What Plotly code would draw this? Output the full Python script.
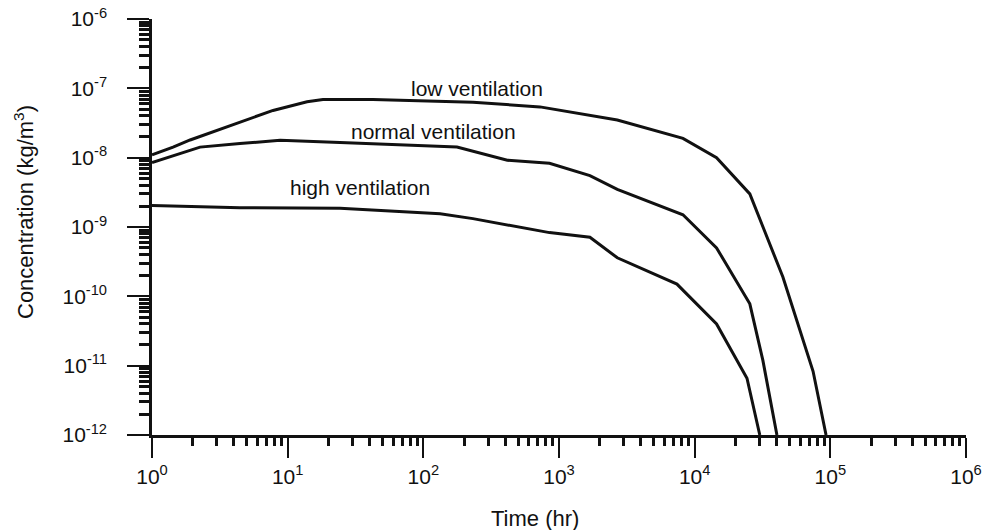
import plotly.graph_objects as go

# Data
time_low = [1, 1.43, 1.91, 2.54, 4.45, 7.8, 13.9, 18.2, 42.5, 232, 724, 2690, 8200, 14500, 25500, 44700, 74600, 93000]
conc_low = [1.1e-8, 1.42e-8, 1.8e-8, 2.2e-8, 3.2e-8, 4.8e-8, 6.4e-8, 6.9e-8, 6.9e-8, 6.3e-8, 5.4e-8, 3.5e-8, 1.9e-8, 1.0e-8, 3.0e-9, 1.9e-10, 8.3e-12, 1e-12]

time_normal = [1, 1.43, 2.26, 4.45, 8.8, 24.3, 177, 416, 851, 1690, 2690, 8200, 14500, 25500, 31800, 40400]
conc_normal = [8.5e-9, 1.07e-8, 1.42e-8, 1.6e-8, 1.78e-8, 1.66e-8, 1.42e-8, 9.2e-9, 8.3e-9, 5.5e-9, 3.5e-9, 1.5e-9, 5.0e-10, 7.8e-11, 1.2e-11, 1e-12]

time_high = [1, 4.45, 24.3, 133, 232, 851, 1690, 2690, 7400, 14500, 24300, 30200]
conc_high = [2.05e-9, 1.9e-9, 1.86e-9, 1.55e-9, 1.32e-9, 8.3e-10, 7.1e-10, 3.6e-10, 1.5e-10, 4.0e-11, 6.6e-12, 1e-12]

x_tickvals = [1, 10, 100, 1000, 1e4, 1e5, 1e6]
x_ticktext = ["10<sup>0</sup>", "10<sup>1</sup>", "10<sup>2</sup>", "10<sup>3</sup>",
              "10<sup>4</sup>", "10<sup>5</sup>", "10<sup>6</sup>"]
y_tickvals = [1e-12, 1e-11, 1e-10, 1e-9, 1e-8, 1e-7, 1e-6]
y_ticktext = ["10<sup>-12</sup>", "10<sup>-11</sup>", "10<sup>-10</sup>", "10<sup>-9</sup>",
              "10<sup>-8</sup>", "10<sup>-7</sup>", "10<sup>-6</sup>"]

x_minor = [k * 10 ** e for e in range(0, 6) for k in range(2, 10)]
y_minor = [k * 10.0 ** e for e in range(-12, -6) for k in range(2, 10)]

FONT = "Liberation Sans, Arial, Helvetica, sans-serif"
LINE = "#111111"

W, H = 986, 530
ML, MR, MT, MB = 152, 20, 19, 95
PW, PH = W - ML - MR, H - MT - MB


def px_to_paper(px, py):
    return (px - ML) / PW, (H - MB - py) / PH


fig = go.Figure()
for xs, ys in [(time_low, conc_low), (time_normal, conc_normal), (time_high, conc_high)]:
    fig.add_trace(go.Scatter(x=xs, y=ys, mode="lines",
                             line=dict(color=LINE, width=3), showlegend=False,
                             hoverinfo="skip"))

fig.update_layout(
    width=W, height=H,
    margin=dict(l=ML, r=MR, t=MT, b=MB),
    paper_bgcolor="white", plot_bgcolor="white",
    font=dict(family=FONT, size=21, color=LINE),
    showlegend=False,
)

fig.update_xaxes(
    type="log", range=[0, 6], automargin=False,
    tickmode="array", tickvals=x_tickvals, ticktext=x_ticktext,
    ticks="outside", ticklen=20, tickwidth=2, tickcolor=LINE,
    showline=True, linewidth=2.5, linecolor=LINE,
    showgrid=False, zeroline=False,
    tickfont=dict(size=21),
    ticklabelstandoff=1,
    minor=dict(tickmode="array", tickvals=x_minor, ticks="outside", ticklen=8,
               tickwidth=2.5, tickcolor=LINE, showgrid=False),
)
fig.update_yaxes(
    type="log", range=[-12, -6], automargin=False,
    tickmode="array", tickvals=y_tickvals, ticktext=y_ticktext,
    ticks="outside", ticklen=22, tickwidth=2, tickcolor=LINE,
    showline=True, linewidth=2.5, linecolor=LINE,
    showgrid=False, zeroline=False,
    tickfont=dict(size=21),
    ticklabelstandoff=16,
    minor=dict(tickmode="array", tickvals=y_minor, ticks="outside", ticklen=10,
               tickwidth=2.5, tickcolor=LINE, showgrid=False),
)

annotations = [
    dict(x=2.395, y=-7.0, text="low ventilation"),
    dict(x=2.078, y=-7.62, text="normal ventilation"),
    dict(x=1.533, y=-8.43, text="high ventilation"),
]
for a in annotations:
    fig.add_annotation(**a, xref="x", yref="y", showarrow=False,
                       xanchor="center", yanchor="middle",
                       font=dict(family=FONT, size=21, color=LINE))

# axis titles
tx, ty = px_to_paper(535, 518)
fig.add_annotation(x=tx, y=ty, xref="paper", yref="paper",
                   text="Time (hr)", showarrow=False,
                   xanchor="center", yanchor="middle",
                   font=dict(family=FONT, size=22, color=LINE))
cx, cy = px_to_paper(24, 212)
fig.add_annotation(x=cx, y=cy, xref="paper", yref="paper",
                   text="Concentration (kg/m<sup>3</sup>)", showarrow=False, textangle=-90,
                   xanchor="center", yanchor="middle",
                   font=dict(family=FONT, size=22, color=LINE))

fig.write_html("out.html", config={"displayModeBar": False},
               post_script="document.body.style.margin='0';")
